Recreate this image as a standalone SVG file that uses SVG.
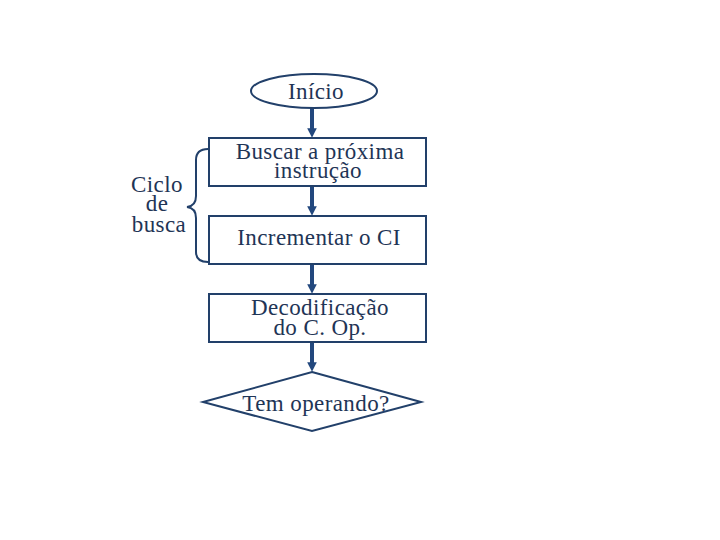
<svg xmlns="http://www.w3.org/2000/svg" width="720" height="540" viewBox="0 0 720 540">
<style>
.shape{fill:#fff;stroke:#22406a;stroke-width:2}
.t{font-family:'Liberation Serif','DejaVu Serif','Times New Roman',serif;font-size:23px;letter-spacing:0.4px;fill:#1f3556;text-anchor:middle}
.c{stroke:#23487e;stroke-width:4;fill:none}
</style>
<defs>
<marker id="ah" markerWidth="2.4" markerHeight="2.4" refX="1.2" refY="1.2" orient="auto" markerUnits="strokeWidth">
<path d="M0,0 L2.4,1.2 L0,2.4 Z" fill="#23487e"/>
</marker>
</defs>
<rect width="720" height="540" fill="#fff"/>
<g id="connectors">
<line class="c" x1="312" y1="108" x2="312" y2="133" marker-end="url(#ah)"/>
<line class="c" x1="312" y1="186" x2="312" y2="211" marker-end="url(#ah)"/>
<line class="c" x1="312" y1="264" x2="312" y2="289" marker-end="url(#ah)"/>
<line class="c" x1="312" y1="342" x2="312" y2="367" marker-end="url(#ah)"/>
</g>
<g id="inicio">
<ellipse class="shape" cx="314" cy="91" rx="63" ry="17"/>
<text class="t" x="316" y="99">Início</text>
</g>
<g id="buscar">
<rect class="shape" x="209" y="138" width="217" height="48"/>
<text class="t" x="320" y="159">Buscar a próxima</text>
<text class="t" x="318" y="178">instrução</text>
</g>
<g id="incrementar">
<rect class="shape" x="209" y="216" width="217" height="48"/>
<text class="t" x="319" y="245">Incrementar o CI</text>
</g>
<g id="decodificacao">
<rect class="shape" x="209" y="294" width="217" height="48"/>
<text class="t" x="320" y="315">Decodificação</text>
<text class="t" x="320" y="335">do C. Op.</text>
</g>
<g id="tem-operando">
<polygon class="shape" points="312,372 421,402 312,431 203,402"/>
<text class="t" x="316" y="411">Tem operando?</text>
</g>
<g id="ciclo-busca">
<path d="M208,149 Q196,149 196,160 L196,196 Q196,206 187,207 Q196,208 196,218 L196,252 Q196,262 208,262" fill="none" stroke="#22406a" stroke-width="2"/>
<text class="t" x="157" y="192">Ciclo</text>
<text class="t" x="157" y="211">de</text>
<text class="t" x="159" y="232">busca</text>
</g>
</svg>
